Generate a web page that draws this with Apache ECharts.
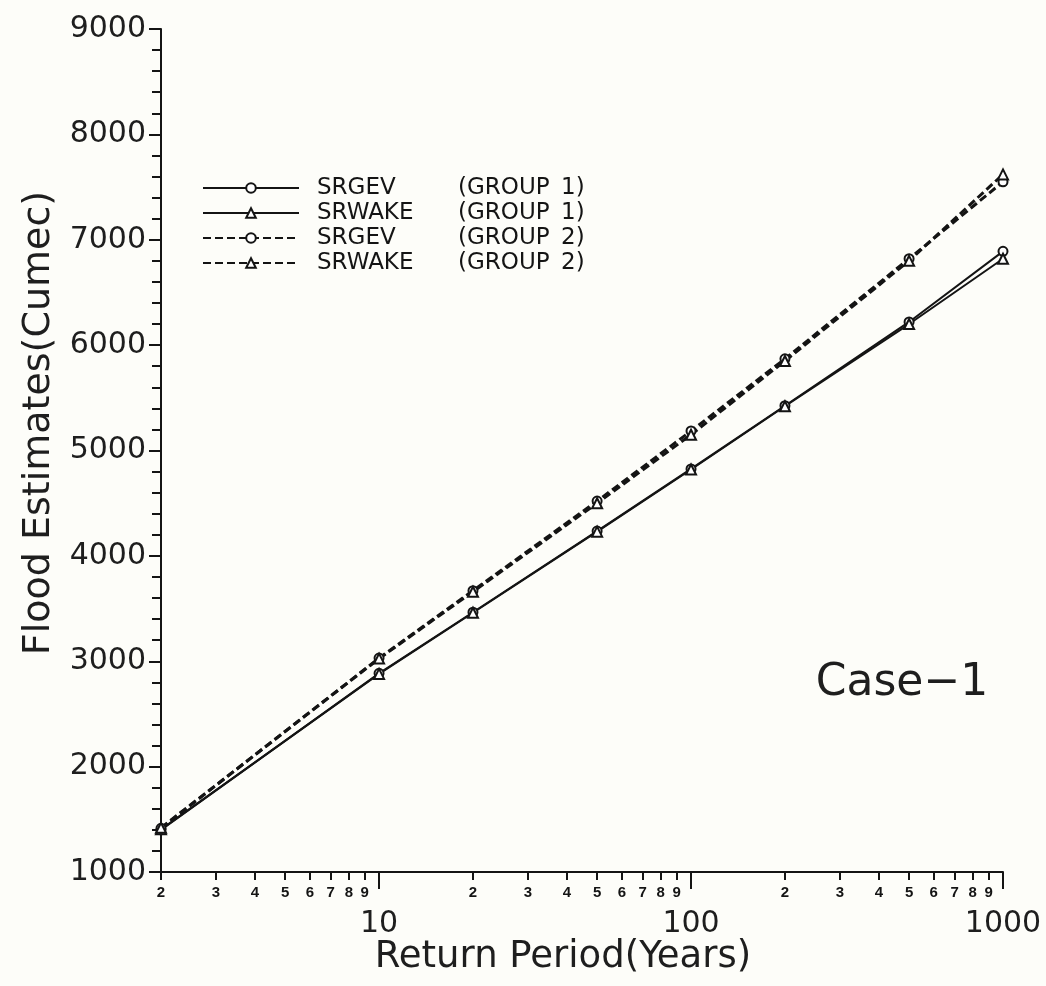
<!DOCTYPE html>
<html><head><meta charset="utf-8">
<script src="https://cdn.jsdelivr.net/npm/echarts@6/dist/echarts.min.js"></script>
<style>html,body{margin:0;padding:0;background:#fdfdf9}#c{width:1046px;height:986px}</style>
</head><body><div id="c"></div>
<script>
// ---- data ----
const returnPeriods = [2, 10, 20, 50, 100, 200, 500, 1000];
const srgevGroup1  = [1400, 2885, 3465, 4235, 4825, 5425, 6220, 6890];
const srwakeGroup1 = [1405, 2880, 3460, 4230, 4820, 5420, 6200, 6820];
const srgevGroup2  = [1415, 3030, 3670, 4520, 5185, 5870, 6820, 7550];
const srwakeGroup2 = [1420, 3025, 3660, 4500, 5150, 5850, 6800, 7620];
const seriesNames = ['SRGEV (GROUP 1)', 'SRWAKE (GROUP 1)', 'SRGEV (GROUP 2)', 'SRWAKE (GROUP 2)'];
// tick labels
const minorTickValues = [2, 3, 4, 5, 6, 7, 8, 9, 20, 30, 40, 50, 60, 70, 80, 90, 200, 300, 400, 500, 600, 700, 800, 900];
const decadeTickValues = [10, 100, 1000];
const xTitle = 'Return Period(Years)';
const yTitle = 'Flood Estimates(Cumec)';
const caseLabel = 'Case\u22121';

const INK = '#141414';
const FONT = 'DejaVu Sans';

function pairs(ys) { return returnPeriods.map((x, i) => [x, ys[i]]); }
function leadDigit(v) {
  const p = Math.pow(10, Math.floor(Math.log10(v) + 1e-9));
  return String(Math.round(v / p));
}
function makeSeries(name, ys, dashed, symbol) {
  return {
    name: name, type: 'line', xAxisIndex: 0, yAxisIndex: 0,
    data: pairs(ys),
    symbol: symbol, symbolSize: symbol === 'emptyTriangle' ? 10 : 9,
    showSymbol: true,
    itemStyle: { color: INK, borderColor: INK, borderWidth: 2.2 },
    lineStyle: { color: INK, width: dashed ? 3 : 2, type: dashed ? [8, 4] : 'solid' },
    emphasis: { disabled: true },
    animation: false
  };
}

const chart = echarts.init(document.getElementById('c'), null, { renderer: 'canvas' });
chart.setOption({
  backgroundColor: '#fdfdf9',
  animation: false,
  grid: { left: 161, right: 43, top: 29, bottom: 114, containLabel: false, outerBoundsMode: 'none' },
  legend: {
    orient: 'vertical', left: 197, top: 171,
    itemWidth: 96, itemHeight: 12, itemGap: 1,
    selectedMode: false,
    data: seriesNames,
    formatter: function (name) {
      const i = name.indexOf(' (');
      const a = name.slice(0, i);
      const b = name.slice(i + 1).replace(' ', '\u2002');
      return '{p|}{a|' + a + '}{b|' + b + '}';
    },
    textStyle: {
      color: INK, fontFamily: FONT, fontSize: 23, lineHeight: 24,
      rich: {
        p: { width: 13 },
        a: { width: 141, fontSize: 23, lineHeight: 24, fontFamily: FONT, color: INK },
        b: { fontSize: 23, lineHeight: 24, fontFamily: FONT, color: INK }
      }
    }
  },
  xAxis: [
    {
      type: 'log', logBase: 10, min: 2, max: 1000, position: 'bottom',
      axisLine: { show: true, onZero: false, lineStyle: { color: INK, width: 2 } },
      axisTick: { show: true, customValues: minorTickValues, length: 8, lineStyle: { color: INK, width: 2 } },
      axisLabel: {
        show: true, customValues: minorTickValues, margin: 13,
        formatter: function (v) { return leadDigit(v); },
        fontSize: 15, fontWeight: 'bold', fontFamily: 'Liberation Sans', color: INK
      },
      splitLine: { show: false }, minorTick: { show: false }
    },
    {
      type: 'log', logBase: 10, min: 2, max: 1000, position: 'bottom',
      axisLine: { show: false, onZero: false },
      axisTick: { show: true, customValues: decadeTickValues, length: 17, lineStyle: { color: INK, width: 2 } },
      axisLabel: {
        show: true, customValues: decadeTickValues, margin: 37,
        formatter: function (v) { return String(Math.round(v)); },
        fontSize: 30, fontFamily: FONT, color: '#1e1e1e'
      },
      splitLine: { show: false }
    }
  ],
  yAxis: {
    type: 'value', min: 1000, max: 9000, interval: 1000,
    axisLine: { show: true, onZero: false, lineStyle: { color: INK, width: 2 } },
    axisTick: { show: true, length: 12, lineStyle: { color: INK, width: 2 } },
    minorTick: { show: true, splitNumber: 5, length: 9, lineStyle: { color: INK, width: 2 } },
    axisLabel: {
      margin: 15, fontSize: 30, fontFamily: FONT, color: '#1e1e1e',
      formatter: function (v) { return String(v); }
    },
    splitLine: { show: false }, minorSplitLine: { show: false }
  },
  graphic: [
    { type: 'text', x: 39, y: 423, rotation: Math.PI / 2,
      style: { text: yTitle, fill: '#1e1e1e', font: '38px "DejaVu Sans"', align: 'center', verticalAlign: 'middle' } },
    { type: 'text', x: 563, y: 957,
      style: { text: xTitle, fill: '#1e1e1e', font: '37px "DejaVu Sans"', align: 'center', verticalAlign: 'middle' } },
    { type: 'text', x: 902, y: 684,
      style: { text: caseLabel, fill: '#1e1e1e', font: '44px "DejaVu Sans"', align: 'center', verticalAlign: 'middle' } }
  ],
  series: [
    makeSeries(seriesNames[0], srgevGroup1, false, 'emptyCircle'),
    makeSeries(seriesNames[1], srwakeGroup1, false, 'emptyTriangle'),
    makeSeries(seriesNames[2], srgevGroup2, true, 'emptyCircle'),
    makeSeries(seriesNames[3], srwakeGroup2, true, 'emptyTriangle')
  ]
});
</script>
</body></html>
